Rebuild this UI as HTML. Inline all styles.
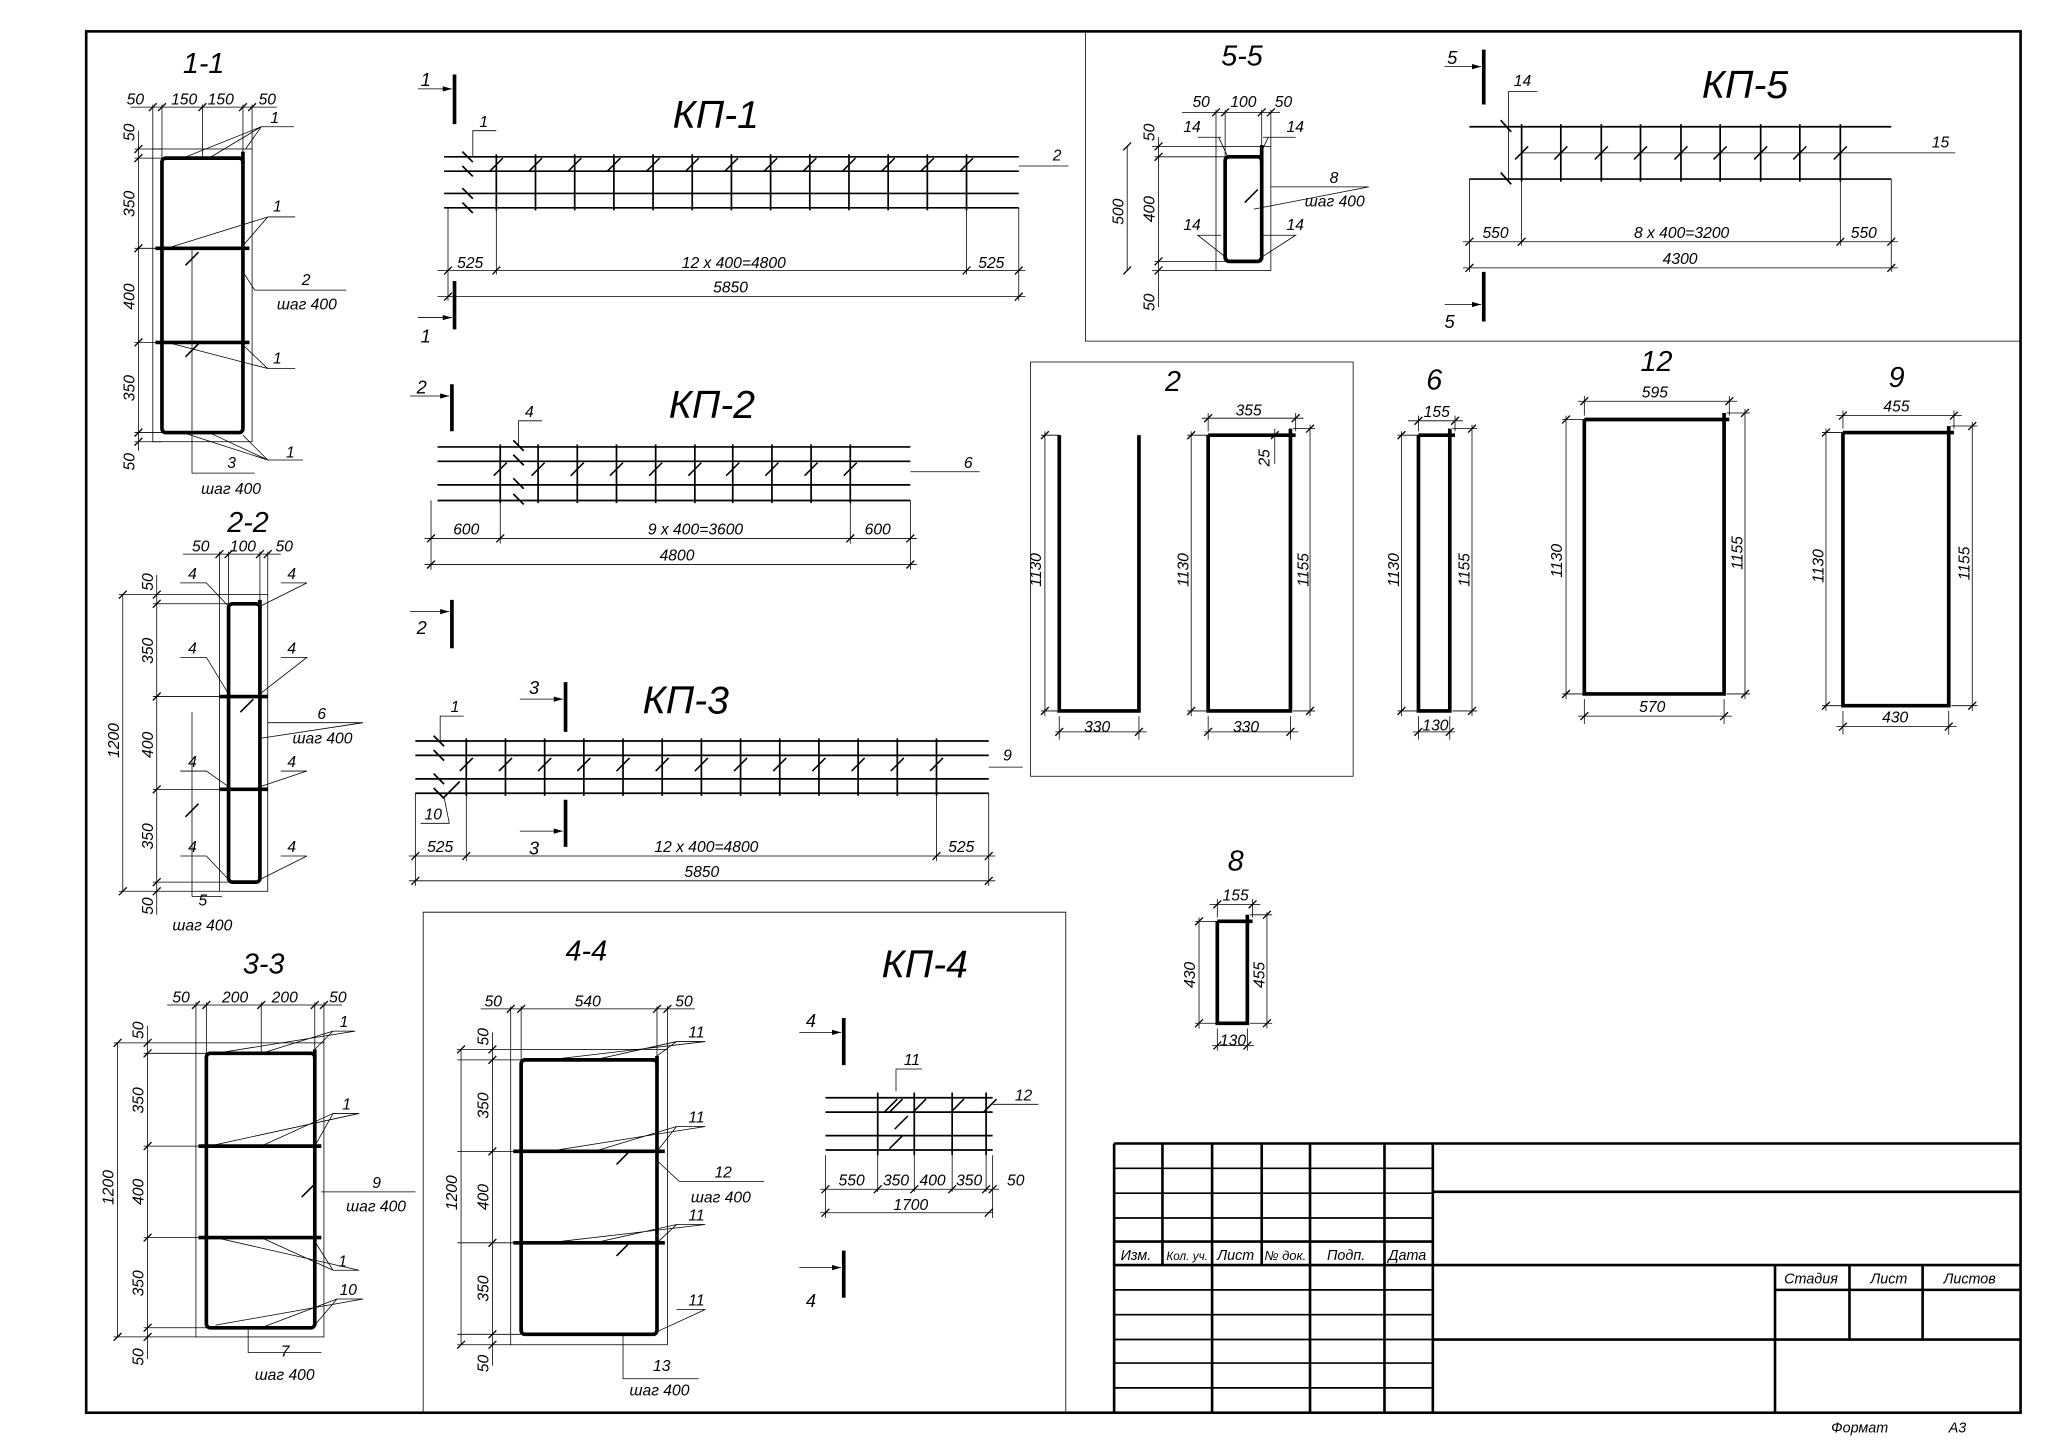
<!DOCTYPE html>
<html><head><meta charset="utf-8">
<style>
html,body{margin:0;padding:0;background:#fff;}
svg{display:block;}
text{font-family:"Liberation Sans Narrow","Liberation Sans",sans-serif;font-style:italic;fill:#000;}
.t{stroke:#000;stroke-width:0.6;fill:none;}
.m{stroke:#000;stroke-width:1.3;fill:none;}
.b{stroke:#000;stroke-width:2.8;fill:none;}
.f{stroke:#000;stroke-width:2;fill:none;}
.d{font-size:12px;}
.h{font-size:30px;}
.s{font-size:22px;}
</style></head>
<body>
<svg width="2048" height="1448" viewBox="0 0 1568 1108" preserveAspectRatio="none" xmlns="http://www.w3.org/2000/svg">
<defs>
<path id="k" d="M-3,3 L3,-3" stroke="#000" stroke-width="1" fill="none"/>
<path id="sl" d="M-5,5 L5,-5" stroke="#000" stroke-width="1.2" fill="none"/>
</defs>
<rect x="0" y="0" width="1568" height="1108" fill="#fff"/>
<!-- frame -->
<rect x="66" y="24" width="1481" height="1057" class="f"/>
<path class="t" d="M831,24 V261 H1547 M789,277 H1036 V594 H789 Z M324,1081 V698 H816 V1081"/>

<!-- title block -->
<g class="f">
<path d="M853,875 H1547 M853,875 V1081 M1097,875 V1081 M1097,912 H1547 M853,968 H1547 M1097,1025 H1547 M853,950 H1097 M1359,968 V1081 M1359,987 H1547 M1416,968 V1025 M1472,968 V1025"/>
<path d="M890,875 V968 M928,875 V1081 M966,875 V968 M1003,875 V1081 M1060,875 V1081"/>
</g>
<path class="m" d="M853,894 H1097 M853,913 H1097 M853,932 H1097 M853,987 H1097 M853,1006 H1097 M853,1025 H1097 M853,1043 H1097 M853,1062 H1097"/>
<g style="font-size:11px">
<text x="858" y="964">Изм.</text><text x="893" y="964" style="font-size:9px">Кол. уч.</text><text x="932" y="964">Лист</text><text x="968" y="964" style="font-size:10px">№ док.</text><text x="1016" y="964">Подп.</text><text x="1063" y="964">Дата</text>
<text x="1366" y="982">Стадия</text><text x="1432" y="982">Лист</text><text x="1488" y="982">Листов</text>
<text x="1402" y="1096">Формат</text><text x="1492" y="1096">А3</text>
</g>

<!-- ===== 1-1 ===== -->
<text x="140" y="56" class="s">1-1</text>
<rect x="117" y="114" width="76" height="224" class="t"/>
<rect x="124" y="121" width="62" height="210" rx="3" class="b"/>
<path class="b" d="M119,190 H191 M119,262 H191 M186,116 V125"/>
<path class="t" d="M100,82 H212 M117,80 V114 M124,80 V121 M155,80 V121 M186,80 V121 M193,80 V114 M103,114 H124 M103,121 H124 M103,190 H124 M103,262 H124 M103,331 H124 M103,338 H124 M106,100 V345 M147,190 V362 H195"/>
<use href="#k" x="117" y="82"/><use href="#k" x="124" y="82"/><use href="#k" x="155" y="82"/><use href="#k" x="186" y="82"/><use href="#k" x="193" y="82"/>
<use href="#k" x="106" y="114"/><use href="#k" x="106" y="121"/><use href="#k" x="106" y="190"/><use href="#k" x="106" y="262"/><use href="#k" x="106" y="331"/><use href="#k" x="106" y="338"/>
<use href="#sl" x="147" y="198"/><use href="#sl" x="147" y="268"/>
<g class="d"><text x="97" y="80">50</text><text x="131" y="80">150</text><text x="159" y="80">150</text><text x="198" y="80">50</text></g>
<g class="d"><text transform="translate(103,108) rotate(-90)">50</text><text transform="translate(103,166) rotate(-90)">350</text><text transform="translate(103,237) rotate(-90)">400</text><text transform="translate(103,307) rotate(-90)">350</text><text transform="translate(103,360) rotate(-90)">50</text></g>
<path class="t" d="M200,97 H225 M200,97 L140,121 M200,97 L160,121 M200,97 L188,114 M205,166 H226 M205,166 L128,190 M205,166 L186,188 M205,282 H226 M205,282 L128,262 M205,282 L186,264 M205,352 H232 M205,352 L140,331 M205,352 L160,331 M205,352 L186,333 M195,222 H265 M195,222 L186,208"/>
<g class="d"><text x="207" y="94">1</text><text x="209" y="162">1</text><text x="209" y="278">1</text><text x="219" y="350">1</text><text x="231" y="218">2</text><text x="212" y="237">шаг 400</text><text x="174" y="358">3</text><text x="154" y="378">шаг 400</text></g>

<!-- ===== 2-2 ===== -->
<text x="174" y="407" class="s">2-2</text>
<rect x="168" y="455" width="37" height="227" class="t"/>
<rect x="175" y="462" width="24" height="213" rx="3" class="b"/>
<path class="b" d="M168,533 H205 M168,604 H205 M199,459 V466"/>
<path class="t" d="M140,424 H215 M168,422 V455 M175,422 V462 M199,422 V462 M205,422 V455 M117,455 H168 M117,462 H175 M117,533 H175 M117,604 H175 M117,675 H175 M117,682 H168 M120,440 V700 M94,455 V682 M91,455 H117 M91,682 H117"/>
<use href="#k" x="168" y="424"/><use href="#k" x="175" y="424"/><use href="#k" x="199" y="424"/><use href="#k" x="205" y="424"/>
<use href="#k" x="120" y="455"/><use href="#k" x="120" y="462"/><use href="#k" x="120" y="533"/><use href="#k" x="120" y="604"/><use href="#k" x="120" y="675"/><use href="#k" x="120" y="682"/><use href="#k" x="94" y="455"/><use href="#k" x="94" y="682"/>
<g class="d"><text x="147" y="422">50</text><text x="176" y="422">100</text><text x="211" y="422">50</text>
<text transform="translate(117,452) rotate(-90)">50</text><text transform="translate(117,508) rotate(-90)">350</text><text transform="translate(117,580) rotate(-90)">400</text><text transform="translate(117,650) rotate(-90)">350</text><text transform="translate(117,700) rotate(-90)">50</text><text transform="translate(91,580) rotate(-90)">1200</text></g>
<path class="t" d="M138,446 H158 L175,464 M215,446 H235 L199,464 M138,503 H158 L175,531 M215,503 H235 L199,531 M138,590 H158 L175,602 M215,590 H235 L199,602 M138,655 H158 L175,673 M215,655 H235 L199,673 M205,553 H278 L199,565 M147,686 V545 M147,686 H170"/>
<use href="#sl" x="189" y="540"/><use href="#sl" x="147" y="620"/>
<g class="d"><text x="144" y="443">4</text><text x="220" y="443">4</text><text x="144" y="500">4</text><text x="220" y="500">4</text><text x="144" y="587">4</text><text x="220" y="587">4</text><text x="144" y="652">4</text><text x="220" y="652">4</text><text x="243" y="550">6</text><text x="224" y="569">шаг 400</text><text x="152" y="693">5</text><text x="132" y="712">шаг 400</text></g>

<!-- ===== 3-3 ===== -->
<text x="186" y="745" class="s">3-3</text>
<rect x="150" y="798" width="98" height="225" class="t"/>
<rect x="158" y="806" width="83" height="210" rx="3" class="b"/>
<path class="b" d="M152,877 H246 M152,947 H246 M241,803 V810"/>
<path class="t" d="M128,769 H262 M150,767 V798 M158,767 V806 M200,767 V806 M241,767 V806 M248,767 V798 M110,798 H150 M110,806 H158 M110,877 H158 M110,947 H158 M110,1016 H158 M110,1023 H150 M113,785 V1040 M90,798 V1023 M87,798 H110 M87,1023 H110 M190,1016 V1035 H246"/>
<use href="#k" x="150" y="769"/><use href="#k" x="158" y="769"/><use href="#k" x="200" y="769"/><use href="#k" x="241" y="769"/><use href="#k" x="248" y="769"/>
<use href="#k" x="113" y="798"/><use href="#k" x="113" y="806"/><use href="#k" x="113" y="877"/><use href="#k" x="113" y="947"/><use href="#k" x="113" y="1016"/><use href="#k" x="113" y="1023"/><use href="#k" x="90" y="798"/><use href="#k" x="90" y="1023"/>
<use href="#sl" x="236" y="911"/>
<g class="d"><text x="132" y="767">50</text><text x="170" y="767">200</text><text x="208" y="767">200</text><text x="252" y="767">50</text>
<text transform="translate(110,795) rotate(-90)">50</text><text transform="translate(110,852) rotate(-90)">350</text><text transform="translate(110,922) rotate(-90)">400</text><text transform="translate(110,992) rotate(-90)">350</text><text transform="translate(110,1045) rotate(-90)">50</text><text transform="translate(87,922) rotate(-90)">1200</text></g>
<path class="t" d="M255,789 H272 L165,806 M255,789 L200,806 M255,789 L241,803 M255,852 H275 L160,877 M255,852 L200,877 M255,852 L241,877 M255,972 H275 L165,947 M255,972 L200,947 M255,972 L241,950 M258,994 H278 L165,1014 M258,994 L200,1016 M258,994 L241,1014 M246,912 H318"/>
<g class="d"><text x="260" y="786">1</text><text x="262" y="849">1</text><text x="259" y="969">1</text><text x="260" y="991">10</text><text x="285" y="909">9</text><text x="265" y="927">шаг 400</text><text x="215" y="1038">7</text><text x="195" y="1056">шаг 400</text></g>

<!-- ===== 4-4 ===== -->
<text x="433" y="735" class="s">4-4</text>
<rect x="391" y="803" width="120" height="226" class="t"/>
<rect x="399" y="811" width="104" height="210" rx="3" class="b"/>
<path class="b" d="M393,881 H509 M393,951 H509 M503,808 V815"/>
<path class="t" d="M368,772 H532 M391,770 V803 M399,770 V811 M503,770 V811 M511,770 V803 M350,803 H391 M350,811 H399 M350,881 H399 M350,951 H399 M350,1021 H399 M350,1029 H391 M377,790 V1045 M353,803 V1029 M477,1021 V1055 H535"/>
<use href="#k" x="391" y="772"/><use href="#k" x="399" y="772"/><use href="#k" x="503" y="772"/><use href="#k" x="511" y="772"/>
<use href="#k" x="377" y="803"/><use href="#k" x="377" y="811"/><use href="#k" x="377" y="881"/><use href="#k" x="377" y="951"/><use href="#k" x="377" y="1021"/><use href="#k" x="377" y="1029"/><use href="#k" x="353" y="803"/><use href="#k" x="353" y="1029"/>
<use href="#sl" x="477" y="886"/><use href="#sl" x="477" y="956"/>
<g class="d"><text x="371" y="770">50</text><text x="440" y="770">540</text><text x="517" y="770">50</text>
<text transform="translate(374,800) rotate(-90)">50</text><text transform="translate(374,856) rotate(-90)">350</text><text transform="translate(374,926) rotate(-90)">400</text><text transform="translate(374,996) rotate(-90)">350</text><text transform="translate(374,1050) rotate(-90)">50</text><text transform="translate(350,926) rotate(-90)">1200</text></g>
<path class="t" d="M518,797 H540 L420,811 M518,797 L455,811 M518,797 L503,808 M518,862 H540 L420,881 M518,862 L455,881 M518,862 L503,881 M518,937 H540 L420,951 M518,937 L455,951 M518,937 L503,951 M518,1002 H540 L503,1019 M503,888 L520,904 H585"/>
<g class="d"><text x="527" y="794">11</text><text x="527" y="859">11</text><text x="527" y="934">11</text><text x="527" y="999">11</text><text x="547" y="901">12</text><text x="529" y="920">шаг 400</text><text x="500" y="1049">13</text><text x="482" y="1068">шаг 400</text></g>

<!-- ===== КП-4 ===== -->
<text x="675" y="748" class="h">КП-4</text>
<path class="b" d="M646,779 V815 M646,957 V993"/>
<path class="t" d="M612,790 H644 M612,970 H644"/>
<path d="M644,790 l-7,-2 v4 z M644,970 l-7,-2 v4 z"/>
<g class="d" style="font-size:14px"><text x="617" y="786">4</text><text x="617" y="1000">4</text></g>
<path class="m" d="M632,840 H760 M632,851 H760 M632,869 H760 M632,880 H760 M672,836 V884 M700,836 V884 M729,836 V884 M755,836 V884"/>
<use href="#sl" x="682" y="846"/><use href="#sl" x="704" y="846"/><use href="#sl" x="733" y="846"/><use href="#sl" x="758" y="846"/><use href="#sl" x="686" y="846"/><use href="#sl" x="686" y="874"/><use href="#sl" x="690" y="859"/>
<path class="t" d="M628,910 H765 M628,928 H760 M632,884 V932 M672,884 V912 M700,884 V912 M729,884 V912 M755,884 V912 M760,884 V932 M686,835 V818 H706 M760,845 H795"/>
<use href="#k" x="632" y="910"/><use href="#k" x="672" y="910"/><use href="#k" x="700" y="910"/><use href="#k" x="729" y="910"/><use href="#k" x="755" y="910"/><use href="#k" x="760" y="910"/><use href="#k" x="632" y="928"/><use href="#k" x="757" y="928"/>
<g class="d"><text x="642" y="907">550</text><text x="676" y="907">350</text><text x="704" y="907">400</text><text x="732" y="907">350</text><text x="771" y="907">50</text><text x="684" y="926">1700</text><text x="692" y="815">11</text><text x="777" y="842">12</text></g>

<!-- ===== КП-1 ===== -->
<text x="515" y="98" class="h">КП-1</text>
<path class="b" d="M348,57 V95 M348,215 V252"/>
<path class="t" d="M320,68 H346 M320,243 H346"/>
<path d="M346,68 l-7,-2 v4 z M346,243 l-7,-2 v4 z"/>
<g class="d" style="font-size:14px"><text x="322" y="66">1</text><text x="322" y="262">1</text></g>
<path class="m" d="M340,120 H780 M340,131 H780 M340,148 H780 M340,159 H780"/>
<path class="m" d="M380,118 V161 M410,118 V161 M440,118 V161 M470,118 V161 M500,118 V161 M530,118 V161 M560,118 V161 M590,118 V161 M620,118 V161 M650,118 V161 M680,118 V161 M710,118 V161 M740,118 V161"/>
<use href="#sl" x="380" y="126"/><use href="#sl" x="410" y="126"/><use href="#sl" x="440" y="126"/><use href="#sl" x="470" y="126"/><use href="#sl" x="500" y="126"/><use href="#sl" x="530" y="126"/><use href="#sl" x="560" y="126"/><use href="#sl" x="590" y="126"/><use href="#sl" x="620" y="126"/><use href="#sl" x="650" y="126"/><use href="#sl" x="680" y="126"/><use href="#sl" x="710" y="126"/><use href="#sl" x="740" y="126"/>
<path class="m" d="M354,116 l8,8 M354,127 l8,8 M354,144 l8,8 M354,155 l8,8"/>
<path class="t" d="M362,120 V100 H380 M780,127 H818 M343,159 V230 M380,159 V210 M740,159 V210 M780,159 V230 M335,207 H785 M335,227 H785"/>
<use href="#k" x="343" y="207"/><use href="#k" x="380" y="207"/><use href="#k" x="740" y="207"/><use href="#k" x="780" y="207"/><use href="#k" x="343" y="227"/><use href="#k" x="780" y="227"/>
<g class="d"><text x="350" y="205">525</text><text x="522" y="205">12 x 400=4800</text><text x="749" y="205">525</text><text x="546" y="224">5850</text><text x="367" y="97">1</text><text x="806" y="123">2</text></g>

<!-- ===== КП-2 ===== -->
<text x="512" y="320" class="h">КП-2</text>
<path class="b" d="M346,294 V330 M346,459 V496"/>
<path class="t" d="M314,303 H344 M314,468 H344"/>
<path d="M344,303 l-7,-2 v4 z M344,468 l-7,-2 v4 z"/>
<g class="d" style="font-size:14px"><text x="319" y="301">2</text><text x="319" y="485">2</text></g>
<path class="m" d="M335,342 H697 M335,353 H697 M335,371 H697 M335,383 H697"/>
<path class="m" d="M383,340 V385 M412,340 V385 M442,340 V385 M472,340 V385 M502,340 V385 M532,340 V385 M561,340 V385 M591,340 V385 M621,340 V385 M651,340 V385"/>
<use href="#sl" x="383" y="359"/><use href="#sl" x="412" y="359"/><use href="#sl" x="442" y="359"/><use href="#sl" x="472" y="359"/><use href="#sl" x="502" y="359"/><use href="#sl" x="532" y="359"/><use href="#sl" x="561" y="359"/><use href="#sl" x="591" y="359"/><use href="#sl" x="621" y="359"/><use href="#sl" x="651" y="359"/>
<path class="m" d="M393,337 l8,8 M393,348 l8,8 M393,366 l8,8 M393,378 l8,8"/>
<path class="t" d="M397,342 V322 H415 M697,361 H750 M330,383 V436 M383,383 V416 M651,383 V416 M697,383 V436 M325,412 H702 M325,432 H702"/>
<use href="#k" x="330" y="412"/><use href="#k" x="383" y="412"/><use href="#k" x="651" y="412"/><use href="#k" x="697" y="412"/><use href="#k" x="330" y="432"/><use href="#k" x="697" y="432"/>
<g class="d"><text x="347" y="409">600</text><text x="496" y="409">9 x 400=3600</text><text x="662" y="409">600</text><text x="505" y="429">4800</text><text x="402" y="319">4</text><text x="738" y="358">6</text></g>

<!-- ===== КП-3 ===== -->
<text x="492" y="546" class="h">КП-3</text>
<path class="b" d="M433,522 V560 M433,612 V648"/>
<path class="t" d="M398,535 H431 M398,636 H431"/>
<path d="M431,535 l-7,-2 v4 z M431,636 l-7,-2 v4 z"/>
<g class="d" style="font-size:14px"><text x="405" y="531">3</text><text x="405" y="654">3</text></g>
<path class="m" d="M318,567 H757 M318,578 H757 M318,596 H757 M318,607 H757"/>
<path class="m" d="M357,565 V609 M387,565 V609 M417,565 V609 M447,565 V609 M477,565 V609 M507,565 V609 M537,565 V609 M567,565 V609 M597,565 V609 M627,565 V609 M657,565 V609 M687,565 V609 M717,565 V609"/>
<use href="#sl" x="357" y="585"/><use href="#sl" x="387" y="585"/><use href="#sl" x="417" y="585"/><use href="#sl" x="447" y="585"/><use href="#sl" x="477" y="585"/><use href="#sl" x="507" y="585"/><use href="#sl" x="537" y="585"/><use href="#sl" x="567" y="585"/><use href="#sl" x="597" y="585"/><use href="#sl" x="627" y="585"/><use href="#sl" x="657" y="585"/><use href="#sl" x="687" y="585"/><use href="#sl" x="717" y="585"/>
<path class="m" d="M332,563 l8,8 M332,574 l8,8 M332,592 l8,8 M332,603 l8,8 M352,598 l-12,12"/>
<path class="t" d="M337,567 V548 H355 M340,610 L344,630 H322 M757,587 H783 M318,607 V678 M357,607 V659 M717,607 V659 M757,607 V678 M313,655 H762 M313,674 H762"/>
<use href="#k" x="318" y="655"/><use href="#k" x="357" y="655"/><use href="#k" x="717" y="655"/><use href="#k" x="757" y="655"/><use href="#k" x="318" y="674"/><use href="#k" x="757" y="674"/>
<g class="d"><text x="327" y="652">525</text><text x="501" y="652">12 x 400=4800</text><text x="726" y="652">525</text><text x="524" y="671">5850</text><text x="345" y="545">1</text><text x="325" y="627">10</text><text x="768" y="582">9</text></g>

<!-- ===== 5-5 ===== -->
<text x="935" y="50" class="s">5-5</text>
<rect x="931" y="112" width="42" height="95" class="t"/>
<rect x="938" y="120" width="28" height="80" rx="3" class="b"/>
<path class="b" d="M966,111 V126"/>
<path class="t" d="M905,86 H980 M931,84 V112 M938,84 V120 M966,84 V120 M973,84 V112 M882,112 H931 M884,120 H938 M884,200 H938 M882,207 H931 M887,105 V235 M863,112 V207 M935,105 H917 M933,105 L940,120 M967,105 H992 M971,105 L964,120 M935,180 H917 L940,198 M967,180 H992 L964,198 M973,143 H1048 L960,160"/>
<use href="#k" x="931" y="86"/><use href="#k" x="938" y="86"/><use href="#k" x="966" y="86"/><use href="#k" x="973" y="86"/><use href="#k" x="887" y="112"/><use href="#k" x="887" y="120"/><use href="#k" x="887" y="200"/><use href="#k" x="887" y="207"/><use href="#k" x="863" y="112"/><use href="#k" x="863" y="207"/>
<use href="#sl" x="958" y="150"/>
<g class="d"><text x="913" y="82">50</text><text x="942" y="82">100</text><text x="976" y="82">50</text>
<text transform="translate(884,108) rotate(-90)">50</text><text transform="translate(884,170) rotate(-90)">400</text><text transform="translate(884,238) rotate(-90)">50</text><text transform="translate(860,172) rotate(-90)">500</text>
<text x="906" y="101">14</text><text x="985" y="101">14</text><text x="906" y="176">14</text><text x="985" y="176">14</text><text x="1018" y="140">8</text><text x="999" y="158">шаг 400</text></g>

<!-- ===== КП-5 ===== -->
<text x="1303" y="75" class="h">КП-5</text>
<path class="b" d="M1136,38 V80 M1136,208 V246"/>
<path class="t" d="M1106,51 H1134 M1106,233 H1134"/>
<path d="M1134,51 l-7,-2 v4 z M1134,233 l-7,-2 v4 z"/>
<g class="d" style="font-size:14px"><text x="1108" y="49">5</text><text x="1106" y="251">5</text></g>
<path class="m" d="M1125,97 H1448 M1125,137 H1448"/>
<path class="m" d="M1165,95 V139 M1195,95 V139 M1226,95 V139 M1256,95 V139 M1287,95 V139 M1317,95 V139 M1348,95 V139 M1378,95 V139 M1409,95 V139"/>
<use href="#sl" x="1165" y="117"/><use href="#sl" x="1195" y="117"/><use href="#sl" x="1226" y="117"/><use href="#sl" x="1256" y="117"/><use href="#sl" x="1287" y="117"/><use href="#sl" x="1317" y="117"/><use href="#sl" x="1348" y="117"/><use href="#sl" x="1378" y="117"/><use href="#sl" x="1409" y="117"/>
<path class="m" d="M1149,92 l8,9 M1149,132 l8,9"/>
<path class="t" d="M1155,138 V70 H1177 M1165,117 H1497 M1125,137 V208 M1165,137 V188 M1409,137 V188 M1448,137 V208 M1120,185 H1453 M1120,205 H1453"/>
<use href="#k" x="1125" y="185"/><use href="#k" x="1165" y="185"/><use href="#k" x="1409" y="185"/><use href="#k" x="1448" y="185"/><use href="#k" x="1125" y="205"/><use href="#k" x="1448" y="205"/>
<g class="d"><text x="1135" y="182">550</text><text x="1251" y="182">8 x 400=3200</text><text x="1417" y="182">550</text><text x="1273" y="202">4300</text><text x="1159" y="66">14</text><text x="1479" y="113">15</text></g>

<!-- ===== bending shapes ===== -->
<text x="892" y="299" class="s">2</text>
<path class="b" d="M811,333 V544 H872 V333"/>
<path class="t" d="M800,330 V548 M797,333 H811 M797,544 H811 M811,548 V566 M872,548 V566 M808,560 H878"/>
<use href="#k" x="800" y="333"/><use href="#k" x="800" y="544"/><use href="#k" x="811" y="560"/><use href="#k" x="872" y="560"/>
<path class="b" d="M925,333 V544 H988 V333 H925 M988,328 V338 M988,333 H992"/>
<path class="t" d="M912,330 V548 M909,333 H925 M909,544 H925 M925,548 V566 M988,548 V566 M922,560 H994 M925,330 V316 M992,330 V316 M920,320 H998 M1003,325 V548 M990,328 H1007 M990,544 H1007 M976,328 V355"/>
<use href="#k" x="912" y="333"/><use href="#k" x="912" y="544"/><use href="#k" x="925" y="560"/><use href="#k" x="988" y="560"/><use href="#k" x="925" y="320"/><use href="#k" x="992" y="320"/><use href="#k" x="1003" y="328"/><use href="#k" x="1003" y="544"/><use href="#k" x="976" y="333"/>
<g class="d"><text x="830" y="560">330</text><text x="944" y="560">330</text><text x="946" y="318">355</text>
<text transform="translate(797,449) rotate(-90)">1130</text><text transform="translate(910,449) rotate(-90)">1130</text><text transform="translate(1002,449) rotate(-90)">1155</text><text transform="translate(972,357) rotate(-90)">25</text></g>

<text x="1092" y="298" class="s">6</text>
<path class="b" d="M1086,333 V544 H1110 V333 H1086 M1110,328 V338 M1110,333 H1114"/>
<path class="t" d="M1073,330 V548 M1070,333 H1086 M1070,544 H1086 M1086,548 V566 M1110,548 V566 M1082,560 H1114 M1086,330 V318 M1114,330 V318 M1078,322 H1120 M1127,325 V548 M1112,328 H1131 M1112,544 H1131"/>
<use href="#k" x="1073" y="333"/><use href="#k" x="1073" y="544"/><use href="#k" x="1086" y="560"/><use href="#k" x="1110" y="560"/><use href="#k" x="1086" y="322"/><use href="#k" x="1114" y="322"/><use href="#k" x="1127" y="328"/><use href="#k" x="1127" y="544"/>
<g class="d"><text x="1089" y="559">130</text><text x="1090" y="319">155</text>
<text transform="translate(1071,449) rotate(-90)">1130</text><text transform="translate(1125,449) rotate(-90)">1155</text></g>

<text x="1256" y="284" class="s">12</text>
<path class="b" d="M1213,321 V531 H1320 V321 H1213 M1320,316 V326 M1320,321 H1324"/>
<path class="t" d="M1199,318 V535 M1196,321 H1213 M1196,531 H1213 M1213,535 V554 M1320,535 V554 M1208,548 H1326 M1213,318 V303 M1324,318 V303 M1208,307 H1330 M1336,313 V535 M1322,316 H1340 M1322,531 H1340"/>
<use href="#k" x="1199" y="321"/><use href="#k" x="1199" y="531"/><use href="#k" x="1213" y="548"/><use href="#k" x="1320" y="548"/><use href="#k" x="1213" y="307"/><use href="#k" x="1324" y="307"/><use href="#k" x="1336" y="316"/><use href="#k" x="1336" y="531"/>
<g class="d"><text x="1255" y="545">570</text><text x="1257" y="304">595</text>
<text transform="translate(1196,442) rotate(-90)">1130</text><text transform="translate(1334,436) rotate(-90)">1155</text></g>

<text x="1446" y="296" class="s">9</text>
<path class="b" d="M1411,331 V540 H1492 V331 H1411 M1492,326 V336 M1492,331 H1496"/>
<path class="t" d="M1398,328 V544 M1395,331 H1411 M1395,540 H1411 M1411,544 V562 M1492,544 V562 M1406,556 H1498 M1411,328 V314 M1496,328 V314 M1406,318 H1502 M1510,323 V544 M1494,326 H1514 M1494,540 H1514"/>
<use href="#k" x="1398" y="331"/><use href="#k" x="1398" y="540"/><use href="#k" x="1411" y="556"/><use href="#k" x="1492" y="556"/><use href="#k" x="1411" y="318"/><use href="#k" x="1496" y="318"/><use href="#k" x="1510" y="326"/><use href="#k" x="1510" y="540"/>
<g class="d"><text x="1441" y="553">430</text><text x="1442" y="315">455</text>
<text transform="translate(1396,446) rotate(-90)">1130</text><text transform="translate(1508,444) rotate(-90)">1155</text></g>

<text x="940" y="666" class="s">8</text>
<path class="b" d="M932,705 V783 H955 V705 H932 M955,700 V710 M955,705 H959"/>
<path class="t" d="M918,702 V787 M915,705 H932 M915,783 H932 M932,787 V804 M955,787 V804 M928,800 H960 M932,702 V688 M959,702 V688 M926,692 H965 M970,698 V787 M957,700 H974 M957,783 H974"/>
<use href="#k" x="918" y="705"/><use href="#k" x="918" y="783"/><use href="#k" x="932" y="800"/><use href="#k" x="955" y="800"/><use href="#k" x="932" y="692"/><use href="#k" x="959" y="692"/><use href="#k" x="970" y="700"/><use href="#k" x="970" y="783"/>
<g class="d"><text x="934" y="800">130</text><text x="936" y="689">155</text>
<text transform="translate(915,756) rotate(-90)">430</text><text transform="translate(968,756) rotate(-90)">455</text></g>
</svg>
</body></html>
